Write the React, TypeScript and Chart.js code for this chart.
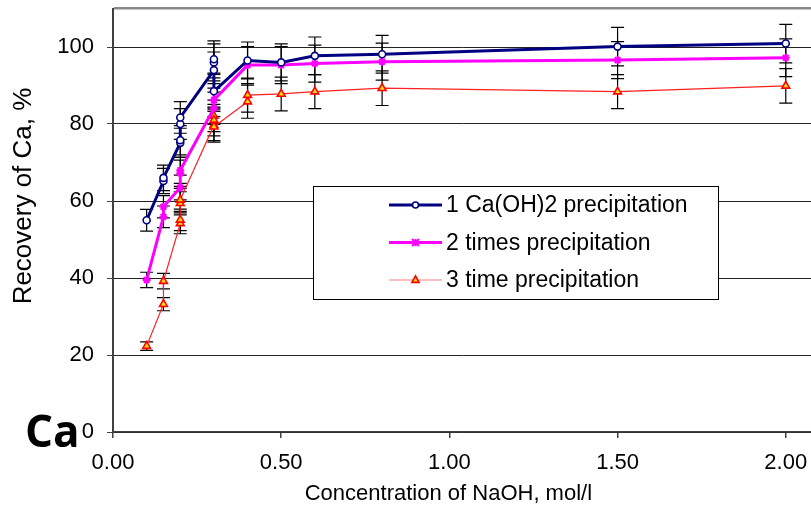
import { useEffect, useRef } from 'react';
import { Chart, registerables } from 'chart.js';

Chart.register(...registerables);

// ---- data ----
const seriesLabels = ['1 Ca(OH)2 precipitation', '2 times precipitation', '3 time precipitation'];

const concentration1 = [0.1, 0.15, 0.15, 0.2, 0.2, 0.2, 0.2, 0.3, 0.3, 0.3, 0.3, 0.4, 0.5, 0.6, 0.8, 1.5, 2.0];
const recovery1 = [55.0, 65.2, 66.0, 75.1, 75.8, 80.0, 81.7, 94.0, 96.0, 96.8, 88.5, 96.5, 96.0, 97.7, 98.1, 100.1, 100.9];
const error1 = [2.8, 3.3, 3.3, 3.8, 3.8, 4.0, 4.1, 4.7, 4.8, 4.8, 4.4, 4.8, 4.8, 4.9, 4.9, 5.0, 5.0];

const concentration2 = [0.1, 0.15, 0.15, 0.2, 0.2, 0.2, 0.3, 0.3, 0.3, 0.4, 0.5, 0.6, 0.8, 1.5, 2.0];
const recovery2 = [39.5, 55.9, 58.5, 63.5, 67.2, 68.0, 84.1, 88.8, 86.2, 95.3, 95.3, 95.7, 96.2, 96.6, 97.2];
const error2 = [2.0, 2.8, 2.9, 3.2, 3.4, 3.4, 4.2, 4.4, 4.3, 4.8, 4.8, 4.8, 4.8, 4.8, 4.9];

const concentration3 = [0.1, 0.15, 0.15, 0.2, 0.2, 0.2, 0.2, 0.3, 0.3, 0.3, 0.3, 0.4, 0.4, 0.5, 0.6, 0.8, 1.5, 2.0];
const recovery3 = [22.3, 33.2, 39.2, 54.2, 55.1, 59.4, 60.3, 79.7, 82.1, 81.0, 79.3, 85.8, 87.5, 87.8, 88.4, 89.3, 88.4, 89.9];
const error3 = [1.1, 1.7, 2.0, 2.7, 2.8, 3.0, 3.0, 4.0, 4.1, 4.1, 4.0, 4.3, 4.4, 4.4, 4.4, 4.5, 4.4, 4.5];

const xTickValues = [0, 0.5, 1.0, 1.5, 2.0];
const yTickValues = [0, 20, 40, 60, 80, 100, 110];

const xTitle = 'Concentration of NaOH, mol/l';
const yTitle = 'Recovery of Ca, %';
const panelLabel = 'Ca';

const errors = [error1, error2, error3];

const FONT = "'Liberation Sans', Arial, sans-serif";

function drawMarker(ctx: CanvasRenderingContext2D, style: string, x: number, y: number, r: number, fill: string, stroke: string, lw: number) {
  ctx.save();
  ctx.lineWidth = lw;
  ctx.strokeStyle = stroke;
  ctx.fillStyle = fill;
  ctx.beginPath();
  if (style === 'circle') {
    ctx.arc(x, y, r, 0, Math.PI * 2);
    ctx.fill();
    ctx.stroke();
  } else if (style === 'triangle') {
    ctx.moveTo(x, y - r);
    ctx.lineTo(x + r * 0.9, y + r * 0.6);
    ctx.lineTo(x - r * 0.9, y + r * 0.6);
    ctx.closePath();
    ctx.fill();
    ctx.stroke();
  } else {
    ctx.moveTo(x - r, y - r);
    ctx.lineTo(x + r, y + r);
    ctx.moveTo(x + r, y - r);
    ctx.lineTo(x - r, y + r);
    ctx.moveTo(x, y - r);
    ctx.lineTo(x, y + r);
    ctx.stroke();
  }
  ctx.restore();
}

const errorBarPlugin = {
  id: 'errorBars',
  beforeDatasetsDraw(chart: any) {
    const { ctx } = chart;
    const xs = chart.scales.x;
    const ys = chart.scales.y;
    ctx.save();
    ctx.strokeStyle = '#000';
    ctx.lineWidth = 1.2;
    chart.data.datasets.forEach((ds: any, di: number) => {
      ds.data.forEach((p: any, i: number) => {
        const e = errors[di][i];
        const px = xs.getPixelForValue(p.x);
        const top = ys.getPixelForValue(p.y + e);
        const bot = ys.getPixelForValue(p.y - e);
        ctx.beginPath();
        ctx.moveTo(px, top);
        ctx.lineTo(px, bot);
        ctx.moveTo(px - 6.5, top);
        ctx.lineTo(px + 6.5, top);
        ctx.moveTo(px - 6.5, bot);
        ctx.lineTo(px + 6.5, bot);
        ctx.stroke();
      });
    });
    ctx.restore();
  },
};

const decorPlugin = {
  id: 'decor',
  afterDraw(chart: any) {
    const { ctx, chartArea } = chart;
    const xs = chart.scales.x;
    ctx.save();
    // axis titles
    ctx.fillStyle = '#000';
    ctx.textAlign = 'center';
    ctx.textBaseline = 'middle';
    ctx.font = `22px ${FONT}`;
    ctx.fillText(xTitle, xs.getPixelForValue(1.0) - 1, 494);
    ctx.save();
    ctx.translate(24, 196);
    ctx.rotate(-Math.PI / 2);
    ctx.font = `26px ${FONT}`;
    ctx.fillText(yTitle, 0, 0);
    ctx.restore();

    // panel label
    ctx.textAlign = 'left';
    ctx.textBaseline = 'alphabetic';
    ctx.font = `bold 44px 'Open Sans', sans-serif`;
    ctx.fillText(panelLabel, 25, 447);

    // legend
    const bx = chartArea.left + 200;
    const by = chartArea.top + 177.5;
    const bw = 405;
    const bh = 113;
    ctx.fillStyle = '#fff';
    ctx.fillRect(bx, by, bw, bh);
    ctx.strokeStyle = '#000';
    ctx.lineWidth = 1;
    ctx.strokeRect(Math.round(bx) + 0.5, Math.round(by) + 0.5, bw, bh);
    const rows = [19, 56.5, 94];
    chart.data.datasets.forEach((ds: any, i: number) => {
      const y = by + rows[i];
      const x0 = bx + 76;
      const x1 = bx + 129;
      ctx.strokeStyle = ds.legendLine || ds.borderColor;
      ctx.lineWidth = ds.borderWidth;
      ctx.beginPath();
      ctx.moveTo(x0, y);
      ctx.lineTo(x1, y);
      ctx.stroke();
      drawMarker(ctx, ds.pointStyle, (x0 + x1) / 2, y, ds.pointRadius - 0.5, ds.pointBackgroundColor, ds.pointBorderColor, ds.pointBorderWidth);
      ctx.fillStyle = '#000';
      ctx.textAlign = 'left';
      ctx.textBaseline = 'middle';
      ctx.font = `23px ${FONT}`;
      ctx.fillText(ds.label, bx + 133, y + 1);
    });
    ctx.restore();
  },
};

export default function App() {
  const ref = useRef<HTMLCanvasElement | null>(null);

  useEffect(() => {
    document.body.style.margin = '0';
    const canvas = ref.current!;
    const tickFont = { family: FONT, size: 22 };
    const chart = new Chart(canvas, {
      type: 'line',
      data: {
        datasets: [
          {
            label: seriesLabels[0],
            data: concentration1.map((x, i) => ({ x, y: recovery1[i] })),
            borderColor: '#000080',
            borderWidth: 3,
            pointStyle: 'circle',
            pointRadius: 3.5,
            pointBackgroundColor: '#ffffff',
            pointBorderColor: '#000080',
            pointBorderWidth: 1.6,
            tension: 0,
          },
          {
            label: seriesLabels[1],
            data: concentration2.map((x, i) => ({ x, y: recovery2[i] })),
            borderColor: '#ff00ff',
            borderWidth: 3,
            pointStyle: 'star',
            pointRadius: 4,
            pointBackgroundColor: '#ff00ff',
            pointBorderColor: '#ff00ff',
            pointBorderWidth: 2,
            tension: 0,
          },
          {
            label: seriesLabels[2],
            data: concentration3.map((x, i) => ({ x, y: recovery3[i] })),
            borderColor: '#ff2020',
            legendLine: '#ff8080',
            borderWidth: 1.2,
            pointStyle: 'triangle',
            pointRadius: 4.5,
            pointBackgroundColor: '#ffdd00',
            pointBorderColor: '#ff0000',
            pointBorderWidth: 1.6,
            tension: 0,
          } as any,
        ],
      },
      options: {
        animation: false,
        responsive: false,
        maintainAspectRatio: false,
        layout: { autoPadding: false, padding: { top: 8.5, left: 0, right: 0, bottom: 0 } },
        scales: {
          x: {
            type: 'linear',
            min: 0,
            max: 2.075,
            afterBuildTicks: (s: any) => {
              s.ticks = xTickValues.map((v) => ({ value: v }));
            },
            afterFit: (s: any) => {
              s.height = 78;
              s.paddingLeft = 0;
              s.paddingRight = 0;
            },
            ticks: {
              font: tickFont,
              color: '#000',
              padding: 12,
              maxRotation: 0,
              autoSkip: false,
              callback: (v: any) => Number(v).toFixed(2),
            },
            grid: { drawOnChartArea: false, drawTicks: true, tickLength: 6, color: '#404040', lineWidth: 1.5 },
            border: { color: '#404040', width: 1.5 },
          },
          y: {
            type: 'linear',
            min: 0,
            max: 110,
            afterBuildTicks: (s: any) => {
              s.ticks = yTickValues.map((v) => ({ value: v }));
            },
            afterFit: (s: any) => {
              s.width = 113;
              s.paddingTop = 0;
              s.paddingBottom = 0;
            },
            ticks: {
              font: tickFont,
              color: '#000',
              padding: 13,
              autoSkip: false,
              callback: (v: any) => (Number(v) > 100 ? '' : String(v)),
            },
            grid: {
              drawTicks: true,
              tickLength: 6,
              color: (c: any) => (c.tick && c.tick.value > 100 ? '#888888' : '#222222'),
              tickColor: (c: any) => (c.tick && c.tick.value > 100 ? 'rgba(0,0,0,0)' : '#404040'),
              lineWidth: (c: any) => (c.tick && c.tick.value > 100 ? 2.5 : 1),
            },
            border: { color: '#404040', width: 2 },
          },
        },
        plugins: {
          legend: { display: false },
          tooltip: { enabled: false },
        },
      } as any,
      plugins: [errorBarPlugin, decorPlugin],
    });
    return () => chart.destroy();
  }, []);

  return (
    <div style={{ position: 'absolute', left: 0, top: 0, width: 811, height: 510, background: '#fff' }}>
      <canvas ref={ref} width={811} height={510} style={{ display: 'block' }} />
    </div>
  );
}
